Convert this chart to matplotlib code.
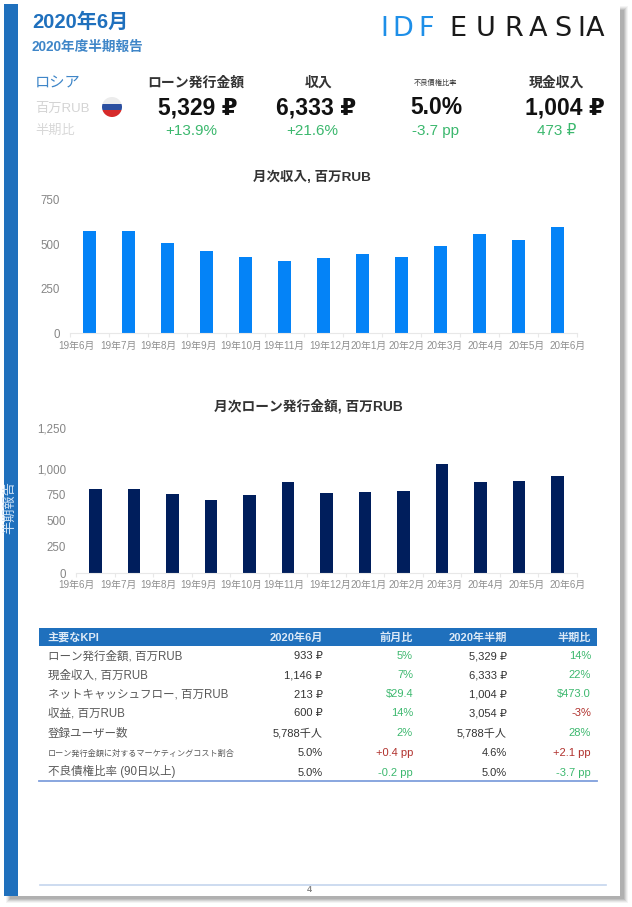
import matplotlib
matplotlib.use("Agg")
import matplotlib.pyplot as plt
from matplotlib.patches import Rectangle, Circle

plt.rcParams['font.family'] = ['Liberation Sans', 'Noto Sans CJK JP', 'DejaVu Sans']

W, H = 632, 907

months = ["19年6月", "19年7月", "19年8月", "19年9月", "19年10月", "19年11月", "19年12月",
          "20年1月", "20年2月", "20年3月", "20年4月", "20年5月", "20年6月"]
income = [575, 578, 505, 460, 427, 405, 425, 447, 430, 489, 556, 525, 600]
loans = [805, 808, 757, 702, 747, 878, 772, 782, 788, 1048, 875, 888, 933]

kpi_heads = ["ローン発行金額", "収入", "不良債権比率", "現金収入"]
kpi_vals = ["5,329 ₽", "6,333 ₽", "5.0%", "1,004 ₽"]
kpi_chg = ["+13.9%", "+21.6%", "-3.7 pp", "473 ₽"]

table_head = ["主要なKPI", "2020年6月", "前月比", "2020年半期", "半期比"]
row_names = ["ローン発行金額, 百万RUB", "現金収入, 百万RUB", "ネットキャッシュフロー, 百万RUB",
             "収益, 百万RUB", "登録ユーザー数", "ローン発行金額に対するマーケティングコスト割合",
             "不良債権比率 (90日以上)"]
col_month = ["933 ₽", "1,146 ₽", "213 ₽", "600 ₽", "5,788千人", "5.0%", "5.0%"]
col_mom = ["5%", "7%", "$29.4", "14%", "2%", "+0.4 pp", "-0.2 pp"]
col_half = ["5,329 ₽", "6,333 ₽", "1,004 ₽", "3,054 ₽", "5,788千人", "4.6%", "5.0%"]
col_hoh = ["14%", "22%", "$473.0", "-3%", "28%", "+2.1 pp", "-3.7 pp"]

BLUE = "#1f70bd"
GREEN = "#3cb86e"
RED = "#b0302c"
GREY = "#868686"
DARK = "#444444"
LATIN = ["Liberation Sans", "DejaVu Sans"]

fig = plt.figure(figsize=(W / 100, H / 100), dpi=100, facecolor="white")

# page layer in pixel coordinates, y going down
bg = fig.add_axes([0, 0, 1, 1])
bg.set_xlim(0, W)
bg.set_ylim(H, 0)
bg.axis("off")


def txt(x, y, s, size=9, color=DARK, ha="left", weight="normal", va="center", **kw):
    return bg.text(x, y, s, fontsize=size, color=color, ha=ha, va=va, fontweight=weight, **kw)


# shadow, page, side bar
for i, c in enumerate(["#f4f4f4", "#e6e6e6", "#d4d4d4", "#c0c0c0", "#b0b0b0"]):
    bg.add_patch(Rectangle((6 + i, 6 + i), 622 - 2 * i, 897 - 2 * i, color=c, lw=0))
bg.add_patch(Rectangle((4, 4), 616, 892, color="white", lw=0))
bg.add_patch(Rectangle((4, 4), 13.5, 892, color=BLUE, lw=0))
txt(10.5, 508, "半期報告", size=9.5, color="#cfe2f5", ha="center", rotation=90)

# header
txt(32, 22, "2020年6月", size=14.5, color=BLUE, weight="bold")
txt(32, 47, "2020年度半期報告", size=9.8, color="#3f86c8", weight="bold")
for x, ch in zip([384.5, 403, 426.6], "IDF"):
    txt(x, 29, ch, size=19.5, color="#1e8fe8", ha="center", family=["DejaVu Sans"])
for x, ch in zip([457.7, 486, 514, 538, 562.5, 581, 595], "EURASIA"):
    txt(x, 29, ch, size=19.5, color="#1a1a1a", ha="center", family=["DejaVu Sans"])

# kpi strip
txt(35, 83, "ロシア", size=11, color="#3f86c8")
txt(35, 109, "百万RUB", size=9.5, color="#d4d4d4")
txt(35, 131, "半期比", size=9.5, color="#d8d8d8")

flag = Circle((112, 107), 10, transform=bg.transData)
for y0, h, c in [(97, 6.5, "#ececec"), (103.5, 6.5, "#2b4fa0"), (110, 7, "#d62a2a")]:
    stripe = Rectangle((102, y0), 20, h, color=c, lw=0)
    bg.add_patch(stripe)
    stripe.set_clip_path(flag)

head_x = [195.5, 318.5, 435.5, 556]
val_x = [198, 316.5, 436, 564.5]
chg_x = [191.5, 312.5, 435.5, 557]
head_sizes = [10, 10, 5.2, 10]
for i in range(4):
    s = head_sizes[i]
    txt(head_x[i], 83, kpi_heads[i], size=s, color="#333333", ha="center", weight="bold" if s > 6 else "normal")
    txt(val_x[i], 108, kpi_vals[i], size=16.5, color="#111111", ha="center", weight="bold", family=LATIN)
    txt(chg_x[i], 131, kpi_chg[i], size=11, color=GREEN, ha="center", family=LATIN)


def ax_px(left, right, top, bottom):
    return fig.add_axes([left / W, 1 - bottom / H, (right - left) / W, (bottom - top) / H])


label_px = [76, 118, 158, 199, 241, 284, 330, 369, 407, 445, 486, 527, 568]


def bar_chart(left, top, bottom, ymax, values, color, ticks, ticklabels, title, title_x, title_y, title_size, label_y):
    ax = ax_px(left, 577, top, bottom)
    x = list(range(len(values)))
    ax.bar(x, values, width=0.325, color=color)
    ax.set_xlim(-0.5, 12.5)
    ax.set_ylim(0, ymax)
    ax.set_yticks(ticks, ticklabels, fontsize=8.3, color=GREY)
    ax.set_xticks([i - 0.5 for i in range(14)], [""] * 14)
    ax.tick_params(axis="y", length=0, pad=7)
    ax.tick_params(axis="x", length=3, color="#e8e8e8", width=0.8)
    for s in ["top", "right", "left"]:
        ax.spines[s].set_visible(False)
    ax.spines["bottom"].set_color("#e8e8e8")
    ax.patch.set_alpha(0)
    # the month labels do not line up with the bars in the original
    for px, m in zip(label_px, months):
        txt(px, label_y, m, size=7.1, color="#8f8f8f", ha="center")
    txt(title_x, title_y, title, size=title_size, color="#333333", ha="center", weight="bold")
    return ax


bar_chart(70, 200, 333, 750, income, "#0483f7", [0, 250, 500, 750], ["0", "250", "500", "750"],
          "月次収入, 百万RUB", 312, 177, 9.7, 346)
# top label sits above the regular spacing in the original, so its tick is further up
bar_chart(76, 428, 573, 1394, loans, "#001e5c", [0, 250, 500, 750, 1000, 1394],
          ["0", "250", "500", "750", "1,000", "1,250"],
          "月次ローン発行金額, 百万RUB", 308, 406, 9.9, 585)

# table
bg.add_patch(Rectangle((39, 627.5), 558, 18, color=BLUE, lw=0))
cols_x = [47.5, 322.5, 413, 507, 591]
for i, (x, h) in enumerate(zip(cols_x, table_head)):
    txt(x, 640.5, h, size=8, color="#dce9f6", ha="left" if i == 0 else "right", weight="bold", va="baseline")

row_y = [655.7, 674.5, 694, 713, 733, 752, 772]
for i, y in enumerate(row_y):
    base = y + 3.5
    size = 5.85 if i == 5 else 8.3
    txt(47.5, base, row_names[i], size=size, color="#595959", va="baseline")
    txt(cols_x[1], base, col_month[i], size=8, color="#333333", ha="right", va="baseline")
    txt(cols_x[3], base, col_half[i], size=8, color="#333333", ha="right", va="baseline")
    mom_c = RED if col_mom[i].startswith("+") else GREEN
    hoh_c = RED if col_hoh[i].startswith("+") or col_hoh[i] == "-3%" else GREEN
    txt(cols_x[2], base, col_mom[i], size=8, color=mom_c, ha="right", va="baseline")
    txt(cols_x[4], base, col_hoh[i], size=8, color=hoh_c, ha="right", va="baseline")
bg.plot([39, 597], [780.5, 780.5], color="#7f9fdc", lw=1.3)

# footer
bg.plot([39.5, 605.5], [885, 885], color="#c5d5ee", lw=1.2)
txt(309, 890, "4", size=6.5, color=GREY, ha="center", weight="bold")

fig.savefig("out.png", dpi=100)
